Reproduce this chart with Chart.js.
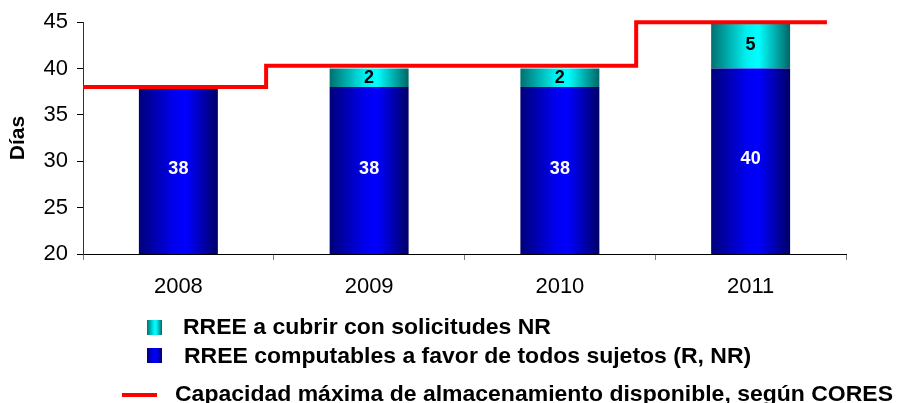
<!DOCTYPE html>
<html>
<head>
<meta charset="utf-8">
<script src="https://cdn.jsdelivr.net/npm/chart.js@4/dist/chart.umd.min.js"></script>
<style>
  body { margin: 0; background: #fff; }
  #wrap { position: relative; width: 898px; height: 403px; font-family: "Liberation Sans", Arial, sans-serif; }
  #chart { position: absolute; left: 0; top: 0; }
  .leg { position: absolute; font-weight: bold; font-size: 22px; color: #000; white-space: nowrap; line-height: 26px; transform: scaleX(1.045); transform-origin: left center; }
  .sw { position: absolute; width: 15px; height: 15px; }
  .ln { position: absolute; width: 35px; height: 4px; background: #ff0000; }
</style>
</head>
<body>
<div id="wrap">
  <canvas id="chart" width="898" height="403"></canvas>
  <div class="sw" id="swCyan" style="left:147px; top:320px;"></div>
  <div class="leg" id="legCyan" style="left:183px; top:314px;"></div>
  <div class="sw" id="swBlue" style="left:147px; top:348px;"></div>
  <div class="leg" id="legBlue" style="left:184px; top:343px;"></div>
  <div class="ln" style="left:122px; top:393px;"></div>
  <div class="leg" id="legLine" style="left:175px; top:381px;"></div>
</div>
<script>
const years = ["2008", "2009", "2010", "2011"];
const computables = [38, 38, 38, 40];
const aCubrir = [0, 2, 2, 5];
const capacidad = [38, 40.3, 40.3, 45];
// where each year's capacity step begins / where the line ends (in category units)
const stepStart = [0, 0.96, 1.93, 2.9];
const lineEnd = 3.9;
const yTicks = { min: 20, max: 45, step: 5 };

const nameCubrir = "RREE a cubrir con solicitudes NR";
const nameComputables = "RREE computables a favor de todos sujetos (R, NR)";
const nameCapacidad = "Capacidad máxima de almacenamiento disponible, según CORES";

const barPct = 0.414;
const blueStops = [[0, "#00007a"], [0.45, "#0000f0"], [0.6, "#0000ff"], [1, "#000066"]];
const cyanStops = [[0, "#007070"], [0.45, "#00f0f0"], [0.6, "#00ffff"], [1, "#006666"]];
const fontFam = "'Liberation Sans', Arial, sans-serif";

function cssGradient(stops) {
  return "linear-gradient(to right, " + stops.map(s => s[1] + " " + (s[0] * 100) + "%").join(", ") + ")";
}

function barGradient(stops) {
  return function (ctx) {
    const chart = ctx.chart;
    const x = chart.scales.x;
    if (!chart.chartArea || !x) return stops[2][1];
    const cx = x.getPixelForValue(ctx.dataIndex);
    const half = (x.width / years.length) * barPct / 2;
    const g = chart.ctx.createLinearGradient(cx - half, 0, cx + half, 0);
    stops.forEach(s => g.addColorStop(s[0], s[1]));
    return g;
  };
}

const linePoints = capacidad.map((v, i) => ({ x: stepStart[i], y: v }));
linePoints.push({ x: lineEnd, y: capacidad[capacidad.length - 1] });

const barLabels = {
  id: "barLabels",
  afterDatasetsDraw(chart) {
    const ctx = chart.ctx;
    const bottom = chart.chartArea.bottom;
    ctx.save();
    ctx.font = "bold 18px " + fontFam;
    ctx.textAlign = "center";
    ctx.textBaseline = "middle";
    chart.data.datasets.forEach((ds, di) => {
      if (ds.type !== "bar") return;
      chart.getDatasetMeta(di).data.forEach((el, i) => {
        const v = ds.data[i];
        if (!v) return;
        const base = Math.min(el.base, bottom);
        ctx.fillStyle = ds.labelColor;
        ctx.fillText(String(v), el.x, (el.y + base) / 2 - (di === 0 ? 2 : 0));
      });
    });
    ctx.restore();
  }
};

new Chart(document.getElementById("chart"), {
  type: "bar",
  data: {
    labels: years,
    datasets: [
      {
        type: "bar",
        label: nameComputables,
        data: computables,
        grouped: false,
        backgroundColor: barGradient(blueStops),
        labelColor: "#ffffff",
        barPercentage: barPct,
        categoryPercentage: 1,
        order: 2
      },
      {
        type: "bar",
        label: nameCubrir,
        data: aCubrir,
        grouped: false,
        backgroundColor: barGradient(cyanStops),
        labelColor: "#000000",
        barPercentage: barPct,
        categoryPercentage: 1,
        order: 3
      },
      {
        type: "line",
        label: nameCapacidad,
        data: linePoints,
        xAxisID: "xLine",
        borderColor: "#ff0000",
        borderWidth: 4,
        stepped: true,
        pointRadius: 0,
        fill: false,
        clip: false,
        borderCapStyle: "butt",
        order: 0
      }
    ]
  },
  options: {
    responsive: false,
    animation: false,
    layout: { padding: { left: 0, top: 22, right: 52, bottom: 0 } },
    plugins: { legend: { display: false }, tooltip: { enabled: false } },
    scales: {
      x: {
        type: "category",
        stacked: true,
        afterFit: s => { s.height = 149; },
        grid: { offset: true, drawOnChartArea: false, tickLength: 6, color: "#808080" },
        border: { display: true, color: "#000000", width: 1 },
        ticks: { color: "#000", padding: 14, font: { size: 22, family: fontFam } }
      },
      xLine: {
        type: "linear",
        display: false,
        offset: false,
        min: 0,
        max: years.length
      },
      y: {
        stacked: true,
        min: yTicks.min,
        max: yTicks.max,
        afterFit: s => { s.width = 83; },
        grid: { drawOnChartArea: false, tickLength: 6, color: "#000000" },
        border: { display: true, color: "#303030", width: 1 },
        ticks: { stepSize: yTicks.step, color: "#000", padding: 9, font: { size: 22, family: fontFam } },
        title: {
          display: true,
          text: "Días",
          color: "#000",
          padding: { top: 6, bottom: 0 },
          font: { size: 21, weight: "bold", family: fontFam }
        }
      }
    }
  },
  plugins: [barLabels]
});

document.getElementById("swCyan").style.background = cssGradient(cyanStops);
document.getElementById("swBlue").style.background = cssGradient(blueStops);
document.getElementById("legCyan").textContent = nameCubrir;
document.getElementById("legBlue").textContent = nameComputables;
document.getElementById("legLine").textContent = nameCapacidad;
</script>
</body>
</html>
